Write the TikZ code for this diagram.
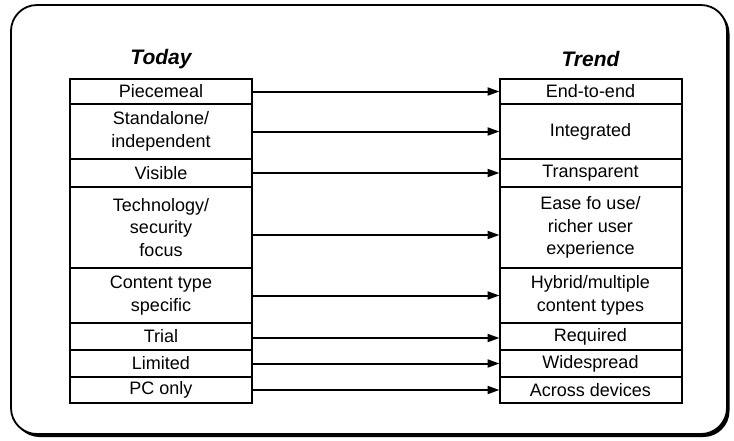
\documentclass[tikz,border=0pt]{standalone}
\usepackage{fontspec}
\setmainfont{Liberation Sans}
\usetikzlibrary{arrows.meta}

\begin{document}
\begin{tikzpicture}[x=1pt, y=-1pt,
    % --- Styles ---
    head node/.style={font=\fontsize{21}{24}\selectfont\bfseries\itshape, anchor=center},
    % One cell of a column, height set per row
    row node/.style={draw, line width=2pt, minimum width=182pt, inner sep=0pt,
        outer sep=0pt, align=center, font=\fontsize{18}{22.5}\selectfont},
    flow arrow/.style={line width=2pt, -{Triangle[length=12pt, width=8pt]}},
    frame line/.style={line width=1.8pt, rounded corners=26pt}
]

%================CONFIGURATION================
% Column centres (x)
\def\xToday{161}
\def\xTrend{590.5}
%=============================================

\useasboundingbox (0,0) rectangle (734,440);

% --- Frame and its shadow ---
\fill[rounded corners=26pt] (13.5,7.5) rectangle (729.5,437);
\draw[frame line, fill=white] (11,5) rectangle (727,434);

% --- Column headings ---
\node[head node] (today) at (\xToday, 59) {Today};
\node[head node] (trend) at (\xTrend, 59) {Trend};

% Rows: top / bottom / arrow drop / today text / trend text
\foreach \ytop/\ybot/\dy/\todaytext/\trendtext [count=\c] in {
    79/104/0/Piecemeal/End-to-end,
    104/159/0/{Standalone/\\independent}/Integrated,
    159/187/0/Visible/Transparent,
    187/268/7.5/{Technology/\\security\\focus}/{Ease fo use/\\richer user\\experience},
    268/323/0/{Content type\\specific}/{Hybrid/multiple\\content types},
    323/350/1.5/Trial/Required,
    350/377/0/Limited/Widespread,
    377/403/0/PC only/Across devices} {

    % --- 1. Row geometry ---
    \pgfmathsetmacro{\ymid}{(\ytop+\ybot)/2}
    \pgfmathsetmacro{\rowh}{\ybot-\ytop}

    % --- 2. Draw the two cells ---
    \node[row node, minimum height=\rowh pt] (L\c) at (\xToday, \ymid) {\todaytext};
    \node[row node, minimum height=\rowh pt] (R\c) at (\xTrend, \ymid) {\trendtext};

    % --- 3. Connect them ---
    \draw[flow arrow] ([yshift=-\dy pt]L\c.east) -- ([yshift=-\dy pt]R\c.west);
}

\end{tikzpicture}
\end{document}
